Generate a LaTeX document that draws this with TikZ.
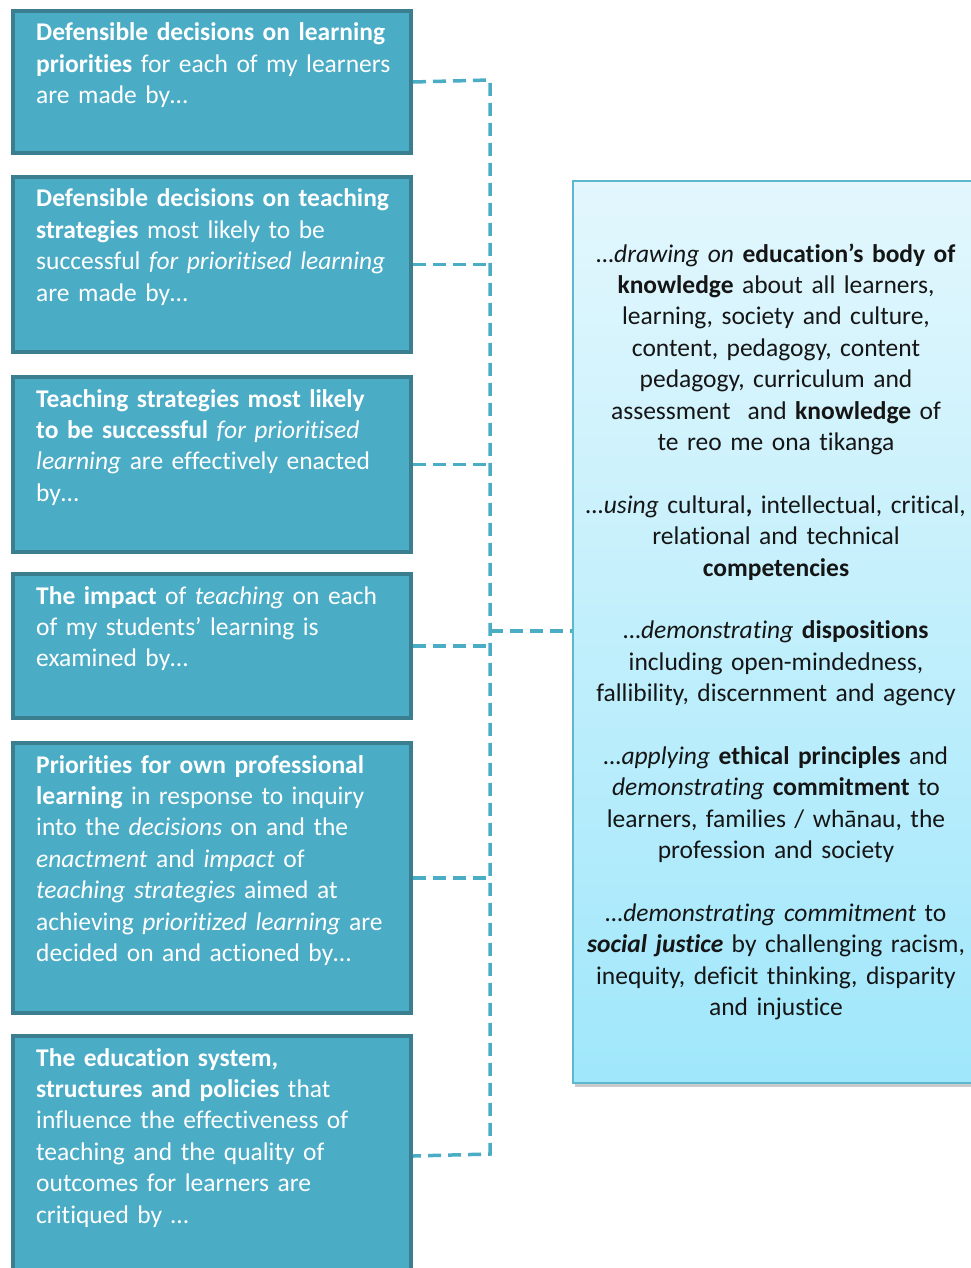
\documentclass[tikz,border=0pt]{standalone}
\usepackage{fontspec}
\setmainfont{Carlito}[Ligatures=NoCommon]
\usetikzlibrary{shadows,calc}
\definecolor{boxfill}{HTML}{4BACC6}
\definecolor{boxedge}{HTML}{3A7E90}
\definecolor{rtop}{HTML}{E3F7FD}
\definecolor{rbot}{HTML}{A0E7FB}
\definecolor{redge}{HTML}{5BB8CF}
\definecolor{dashcol}{HTML}{4BACC6}
\definecolor{txtdark}{HTML}{151515}
\tikzset{
  leftbox/.style={draw=boxedge, line width=4pt, fill=boxfill, rectangle, inner sep=0pt},
  lefttext/.style={anchor=base west, inner sep=0pt, text width=372pt, align=left, text=white,
     font=\fontsize{25.5}{31.4}\selectfont},
  rightbox/.style={draw=redge, line width=2pt, top color=rtop, bottom color=rbot, rectangle, inner sep=0pt,
     drop shadow={shadow xshift=2pt, shadow yshift=-4pt, opacity=0.35, fill=black!60}},
  righttext/.style={anchor=base, inner sep=0pt, text width=400pt, align=center, text=txtdark,
     font=\fontsize{25.5}{31.4}\selectfont},
  link/.style={draw=dashcol, line width=3.5pt, dash pattern=on 13pt off 7pt}
}
\begin{document}
\begin{tikzpicture}[x=1pt,y=-1pt]
\useasboundingbox (0,0) rectangle (970,1268);
% left boxes
\node[leftbox, minimum width=398pt, minimum height=142pt, anchor=north west] (b1) at (11,9) {};
\node[leftbox, minimum width=398pt, minimum height=175pt, anchor=north west] (b2) at (11,175) {};
\node[leftbox, minimum width=398pt, minimum height=175pt, anchor=north west] (b3) at (11,375) {};
\node[leftbox, minimum width=398pt, minimum height=144pt, anchor=north west] (b4) at (11,572) {};
\node[leftbox, minimum width=398pt, minimum height=270pt, anchor=north west] (b5) at (11,741) {};
\node[leftbox, minimum width=398pt, minimum height=240pt, anchor=north west] (b6) at (11,1034) {};
% left texts
\node[lefttext] (t1) at (36,41) {\textbf{Defensible decisions on learning}\\ \textbf{priorities} for each of my learners\\ are made by…};
\node[lefttext] (t2) at (36,207) {\textbf{Defensible decisions on teaching}\\ \textbf{strategies} most likely to be\\ successful \textit{for prioritised learning}\\ are made by…};
\node[lefttext] (t3) at (36,407) {\textbf{Teaching strategies most likely}\\ \textbf{to be successful} \textit{for prioritised}\\ \textit{learning} are effectively enacted\\ by…};
\node[lefttext] (t4) at (36,604) {\textbf{The impact} of \textit{teaching} on each\\ of my students’ learning is\\ examined by…};
\node[lefttext] (t5) at (36,773) {\textbf{Priorities for own professional}\\ \textbf{learning} in response to inquiry\\ into the \textit{decisions} on and the\\ \textit{enactment} and \textit{impact} of\\ \textit{teaching strategies} aimed at\\ achieving \textit{prioritized learning} are\\ decided on and actioned by…};
\node[lefttext] (t6) at (36,1066) {\textbf{The education system,}\\ \textbf{structures and policies} that\\ influence the effectiveness of\\ teaching and the quality of\\ outcomes for learners are\\ critiqued by …};
% right box
\node[rightbox, minimum width=412pt, minimum height=902pt, anchor=north west] (r) at (572,180) {};
\node[righttext] (rt) at (776,262) {\textit{…drawing on} \textbf{education’s body of}\\ \textbf{knowledge} about all learners,\\ learning, society and culture,\\ content, pedagogy, content\\ pedagogy, curriculum and\\ assessment\ \ and \textbf{knowledge} of\\ te reo me ona tikanga\\[31.4pt]
\textit{…using} cultural\textbf{,} intellectual, critical,\\ relational and technical\\ \textbf{competencies}\\[31.4pt]
\textit{…demonstrating} \textbf{dispositions}\\ including open-mindedness,\\ fallibility, discernment and agency\\[31.4pt]
\textit{…applying} \textbf{ethical principles} and\\ \textit{demonstrating} \textbf{commitment} to\\ learners, families / whānau, the\\ profession and society\\[31.4pt]
\textit{…demonstrating commitment} to\\ \textbf{\textit{social justice}} by challenging racism,\\ inequity, deficit thinking, disparity\\ and injustice};
% connectors
\coordinate (v1) at (490,80);
\coordinate (v6) at (490,1154);
\coordinate (vm) at (490,631);
\draw[link] (b1.east) -- (v1) -- (v6) -- (b6.east);
\draw[link] (b2.east) -- (b2.east -| v1);
\draw[link] (b3.east) -- (b3.east -| v1);
\draw[link] (b4.east) -- (b4.east -| v1);
\draw[link] (b5.east) -- (b5.east -| v1);
\draw[link] (vm) -- (vm -| r.west);
\end{tikzpicture}
\end{document}
